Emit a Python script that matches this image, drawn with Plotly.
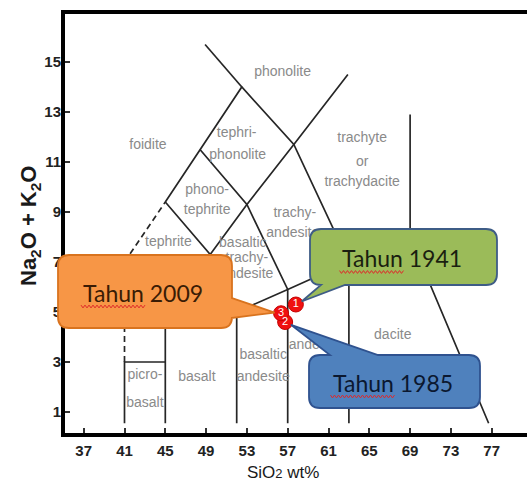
import plotly.graph_objects as go

# ---------------------------------------------------------------------------
# Samples plotted on the TAS diagram
# ---------------------------------------------------------------------------
sample_ids = ["1", "2", "3"]
eruption_years = ["Tahun 1941", "Tahun 1985", "Tahun 2009"]
sio2 = [57.8, 56.75, 56.35]          # SiO2 wt%
total_alkali = [5.3, 4.6, 4.95]      # Na2O + K2O wt%

# Axis ticks
x_ticks = [37, 41, 45, 49, 53, 57, 61, 65, 69, 73, 77]
y_ticks = [1, 3, 5, 7, 9, 11, 13, 15]

# ---------------------------------------------------------------------------
# TAS field boundaries (Le Bas et al., 1986), as polylines in (SiO2, alkali)
# ---------------------------------------------------------------------------
boundary_solid = [
    [(41, 0.55), (41, 3), (45, 3)],
    [(45, 0.55), (45, 5), (49.4, 7.3), (53, 9.3), (57.6, 11.7), (62.9, 14.5)],
    [(52, 0.55), (52, 5), (57, 5.9), (63, 7), (69, 8), (76.7, 0.55)],
    [(57, 0.55), (57, 5.9), (53, 9.3), (48.4, 11.5)],
    [(45, 9.4), (49.4, 7.3), (52, 5)],
    [(45, 9.4), (48.4, 11.5), (52.5, 14), (57.6, 11.7), (63, 7)],
    [(48.9, 15.7), (52.5, 14)],
    [(63, 0.55), (63, 7)],
    [(69, 8), (69, 12.9)],
]
boundary_dashed = [
    [(41, 3), (41, 7), (45, 9.4)],
]

# Field names, one entry per text line
field_text = ["phonolite", "tephri-", "phonolite", "foidite", "phono-", "tephrite",
              "tephrite", "basaltic", "trachy-", "andesite", "trachy-", "andesite",
              "trachyte", "or", "trachydacite", "dacite", "andesite", "basaltic",
              "andesite", "basalt", "picro-", "basalt"]
field_x = [56.5, 52.0, 52.1, 43.3, 49.1, 49.1,
           45.3, 52.6, 53.0, 53.0, 57.7, 57.5,
           64.3, 64.3, 64.3, 67.3, 59.7, 54.6,
           54.6, 48.1, 43.0, 43.0]
field_y = [14.6, 12.16, 11.28, 11.68, 9.88, 9.08,
           7.8, 7.76, 7.16, 6.52, 8.96, 8.16,
           11.96, 11.0, 10.2, 4.08, 3.68, 3.28,
           2.4, 2.4, 2.48, 1.36]

# ---------------------------------------------------------------------------
# Figure geometry
# ---------------------------------------------------------------------------
FIG_W, FIG_H = 527, 485
M_L, M_R, M_T, M_B = 65, 0, 14, 52
PLOT_W = FIG_W - M_L - M_R
PLOT_H = FIG_H - M_T - M_B
X_RANGE = [35.167, 80.46]
Y_RANGE = [0.16, 16.92]

SANS = "Liberation Sans, Arial"


def data_to_px(x, y):
    px = M_L + (x - X_RANGE[0]) / (X_RANGE[1] - X_RANGE[0]) * PLOT_W
    py = M_T + (Y_RANGE[1] - y) / (Y_RANGE[1] - Y_RANGE[0]) * PLOT_H
    return px, py


def px_to_paper(px, py):
    return (px - M_L) / PLOT_W, (M_T + PLOT_H - py) / PLOT_H


def fmt(pt):
    X, Y = px_to_paper(*pt)
    return f"{X:.5f},{Y:.5f}"


def callout_path(L, T, R, B, r, side, b1, b2, tip):
    """Rounded rectangle with a wedge pointer, returned as SVG path in paper units."""
    p = [f"M {fmt((L + r, T))}"]
    if side == "top":
        p += [f"L {fmt((b1, T))}", f"L {fmt(tip)}", f"L {fmt((b2, T))}"]
    p += [f"L {fmt((R - r, T))}", f"Q {fmt((R, T))} {fmt((R, T + r))}"]
    if side == "right":
        p += [f"L {fmt((R, b1))}", f"L {fmt(tip)}", f"L {fmt((R, b2))}"]
    p += [f"L {fmt((R, B - r))}", f"Q {fmt((R, B))} {fmt((R - r, B))}"]
    if side == "bottom":
        p += [f"L {fmt((b2, B))}", f"L {fmt(tip)}", f"L {fmt((b1, B))}"]
    p += [f"L {fmt((L + r, B))}", f"Q {fmt((L, B))} {fmt((L, B - r))}"]
    p += [f"L {fmt((L, T + r))}", f"Q {fmt((L, T))} {fmt((L + r, T))}", "Z"]
    return " ".join(p)


def squiggle(x0, x1, y, amp=1.4, step=2.0):
    pts = []
    x, k = x0, 0
    while x <= x1:
        pts.append((x, y + (amp if k % 2 else -amp)))
        x += step
        k += 1
    return "M " + " L ".join(fmt(q) for q in pts)


fig = go.Figure()

# Field boundaries
for seg in boundary_solid:
    fig.add_trace(go.Scatter(
        x=[p[0] for p in seg], y=[p[1] for p in seg], mode="lines",
        line=dict(color="#262626", width=1.7), hoverinfo="skip", showlegend=False))
for seg in boundary_dashed:
    fig.add_trace(go.Scatter(
        x=[p[0] for p in seg], y=[p[1] for p in seg], mode="lines",
        line=dict(color="#262626", width=1.7, dash="6px,4px"),
        hoverinfo="skip", showlegend=False))

# Field names
fig.add_trace(go.Scatter(
    x=field_x, y=field_y, mode="text", text=field_text,
    textfont=dict(family=SANS, size=14, color="#8a8a8a"),
    hoverinfo="skip", showlegend=False))

# Samples
fig.add_trace(go.Scatter(
    x=sio2, y=total_alkali, mode="markers+text", text=sample_ids,
    textposition="middle center",
    textfont=dict(family=SANS, size=11, color="white"),
    marker=dict(size=15, color="#f01010", line=dict(color="#c40000", width=1)),
    cliponaxis=False, hoverinfo="skip", showlegend=False))

# Callouts: (left, top, right, bottom, pointer side, base1, base2, fill, outline, text colour)
callout_style = {
    "Tahun 1941": (310, 229, 497, 285, "bottom", 321, 345, "#9bbb59", "#3e5c86", "#1a1f10"),
    "Tahun 1985": (309, 355, 480, 408, "top", 330, 378, "#4f81bd", "#2f528f", "#0b1830"),
    "Tahun 2009": (58, 255, 232, 328, "right", 298, 318, "#f79646", "#d9731e", "#3a1c05"),
}

shapes = []
annotations = []
MARKER_R = 6.5
for year, sx, sy in zip(eruption_years, sio2, total_alkali):
    L, T, R, B, side, b1, b2, fill, outline, tcol = callout_style[year]
    cx, cy = data_to_px(sx, sy)
    if side == "right":
        base = (R, (b1 + b2) / 2)
    elif side == "top":
        base = ((b1 + b2) / 2, T)
    else:
        base = ((b1 + b2) / 2, B)
    dx, dy = cx - base[0], cy - base[1]
    d = (dx ** 2 + dy ** 2) ** 0.5
    tip = (cx - dx / d * MARKER_R, cy - dy / d * MARKER_R)
    shapes.append(dict(type="path", xref="paper", yref="paper", layer="above",
                       path=callout_path(L, T, R, B, 11, side, b1, b2, tip),
                       fillcolor=fill, line=dict(color=outline, width=1.8)))
    tx, ty = (L + R) / 2 - 2, (T + B) / 2 + 1
    X, Y = px_to_paper(tx, ty)
    annotations.append(dict(x=X, y=Y, xref="paper", yref="paper", text=year,
                            showarrow=False, xanchor="center", yanchor="middle",
                            font=dict(family="Lato, Carlito, sans-serif", size=23, color=tcol)))
    shapes.append(dict(type="path", xref="paper", yref="paper", layer="above",
                       path=squiggle(tx - 62, tx + 3, ty + 14),
                       line=dict(color="#e02a2a", width=1)))

# Axis titles
X, Y = px_to_paper(30, 226)
annotations.append(dict(x=X, y=Y, xref="paper", yref="paper",
                        text="<b>Na<sub>2</sub>O + K<sub>2</sub>O</b>", textangle=-90,
                        showarrow=False, xanchor="center", yanchor="middle",
                        font=dict(family=SANS, size=22, color="#1a1a1a")))
X, Y = px_to_paper(283, 472)
annotations.append(dict(x=X, y=Y, xref="paper", yref="paper",
                        text="SiO<span style='font-size:13px'>2</span> wt%",
                        showarrow=False, xanchor="center", yanchor="middle",
                        font=dict(family=SANS, size=17, color="#1a1a1a")))

axis_common = dict(showgrid=False, zeroline=False, showline=True, linecolor="black",
                   linewidth=4, ticks="inside", ticklen=5, tickwidth=1.5, tickcolor="#333",
                   tickfont=dict(family=SANS, size=15, color="#222", weight="bold"))

fig.update_layout(
    width=FIG_W, height=FIG_H,
    margin=dict(l=M_L, r=M_R, t=M_T, b=M_B, pad=0),
    paper_bgcolor="white", plot_bgcolor="white",
    xaxis=dict(range=X_RANGE, tickvals=x_ticks, mirror=True, ticklabelstandoff=1,
               **axis_common),
    yaxis=dict(range=Y_RANGE, tickvals=y_ticks, ticklabelstandoff=-3, **axis_common),
    shapes=shapes, annotations=annotations, showlegend=False,
)

fig.write_html("out.html")
